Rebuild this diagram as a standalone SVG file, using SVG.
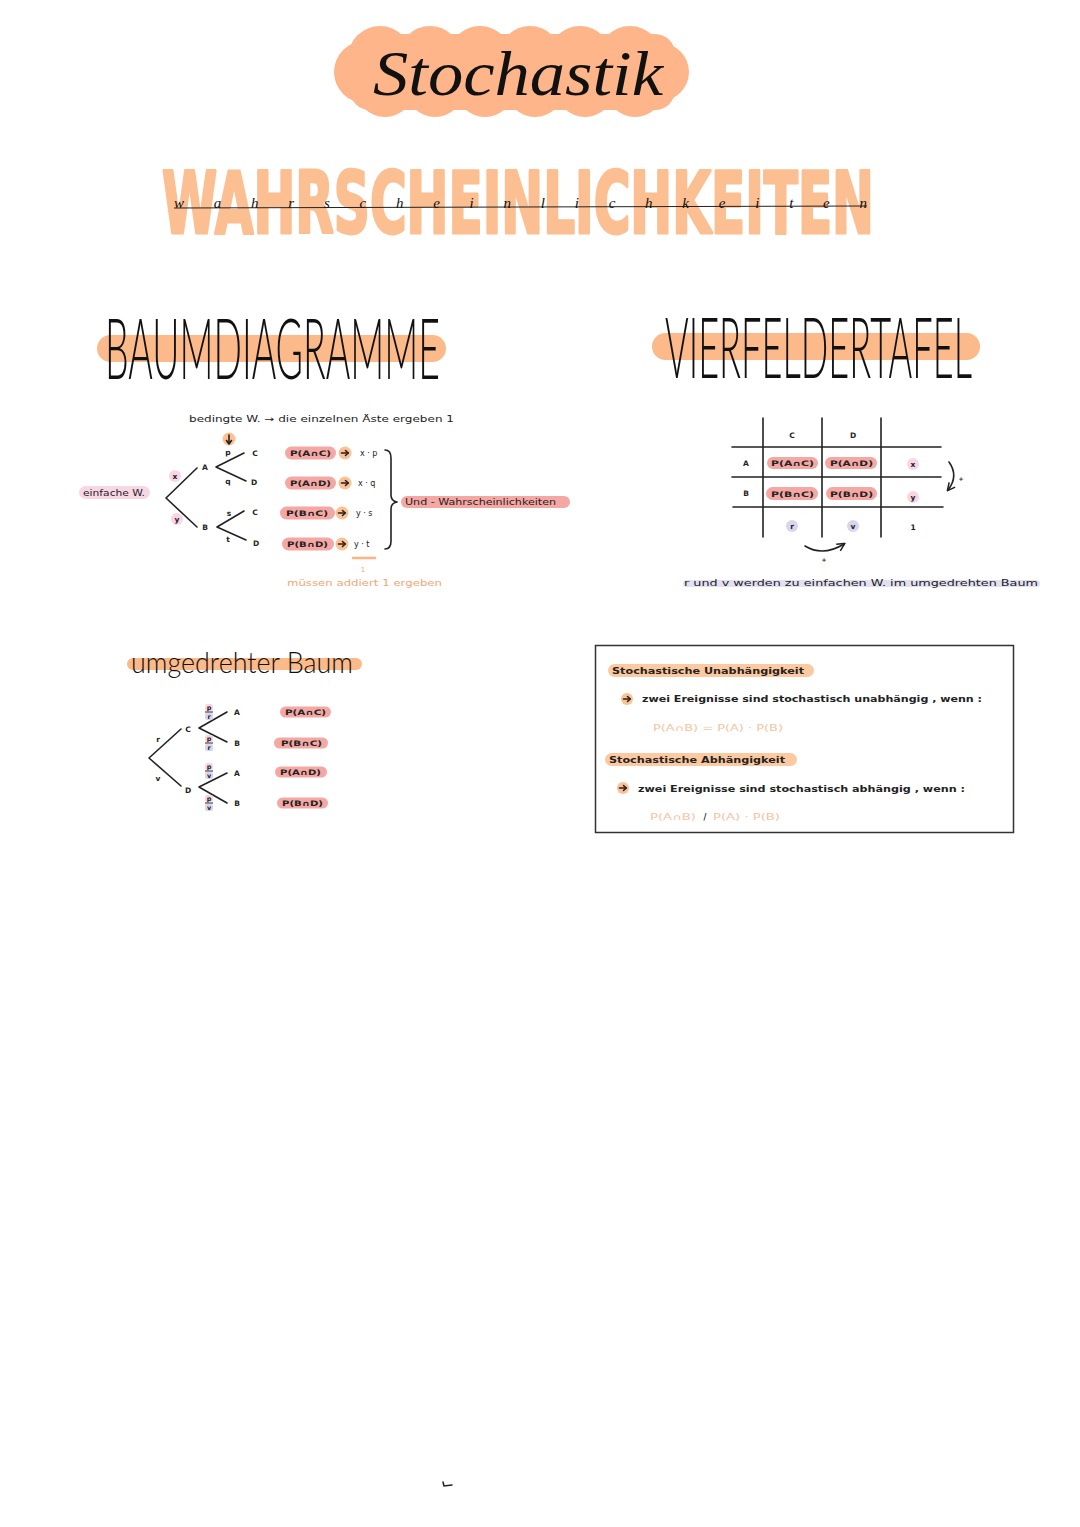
<svg xmlns="http://www.w3.org/2000/svg" xmlns:xlink="http://www.w3.org/1999/xlink" width="1080" height="1527" viewBox="0 0 1080 1527">
<style>
.t{font-family:"DejaVu Sans","Liberation Sans",sans-serif;fill:#222;}
.s7{font-size:7.5px;font-weight:bold;}
.s8{font-size:8px;}
.s9{font-size:9px;}
.pl{fill:#f4a7a3;}
.pk{fill:#f9d6e4;}
.lv{fill:#d9d5ef;}
.oc{fill:#fdc194;}
.ob{fill:#fcb98a;}
.ln{stroke:#222;stroke-width:1.6;fill:none;stroke-linecap:round;stroke-linejoin:round;}
.thin{font-family:"Lato","DejaVu Sans",sans-serif;font-weight:300;fill:#111;}
.or{fill:#f6a672;}
.lo{fill:#f8c3a0;}
</style>
<defs>
<g id="arr"><path d="M-3.5 0 H3" class="ln" stroke-width="1.3"/><path d="M0.5 -2.5 L3.3 0 L0.5 2.5" class="ln" stroke-width="1.3"/></g>
<marker id="ah" viewBox="0 0 10 10" refX="8" refY="5" markerWidth="6" markerHeight="6" orient="auto"><path d="M1 1 L9 5 L1 9" fill="none" stroke="#222" stroke-width="1.6"/></marker>
</defs>
<rect width="1080" height="1527" fill="#fff"/>

<g id="title">
<g fill="#fdb589">
<rect x="350" y="34" width="325" height="76" rx="20"/>
<circle cx="380" cy="58" r="32"/><circle cx="430" cy="57" r="31"/><circle cx="480" cy="58" r="32"/><circle cx="530" cy="57" r="31"/><circle cx="580" cy="58" r="32"/><circle cx="630" cy="58" r="32"/>
<circle cx="385" cy="88" r="29"/><circle cx="435" cy="88" r="29"/><circle cx="485" cy="88" r="29"/><circle cx="535" cy="88" r="29"/><circle cx="585" cy="88" r="29"/><circle cx="635" cy="88" r="29"/>
<circle cx="365" cy="72" r="31"/><circle cx="660" cy="72" r="29"/>
</g>
<text x="373" y="95" font-family="Liberation Serif,serif" font-style="italic" font-size="64" fill="#111" textLength="290" lengthAdjust="spacingAndGlyphs">Stochastik</text>
</g>

<g id="subtitle">
<text transform="translate(162 233) scale(1 2.15)" x="0" y="0" font-family="DejaVu Sans Condensed,DejaVu Sans,sans-serif" font-weight="bold" font-size="40" fill="#fcbf92" stroke="#fcbf92" stroke-width="1.4" stroke-linejoin="round" textLength="712" lengthAdjust="spacingAndGlyphs">WAHRSCHEINLICHKEITEN</text>
<path d="M174 208 L867 206" stroke="#222" stroke-width="1" fill="none"/>
<text x="174" y="208" font-family="Liberation Serif,serif" font-style="italic" font-size="15" fill="#111" textLength="693" lengthAdjust="spacing">wahrscheinlichkeiten</text>
</g>

<g id="h-baum">
<rect x="97" y="335" width="349" height="27" rx="13.5" class="ob"/>
<text transform="translate(105 379) scale(1 2.1)" x="0" y="0" class="thin" font-size="40" textLength="335" lengthAdjust="spacingAndGlyphs">BAUMDIAGRAMME</text>
</g>
<g id="h-vier">
<rect x="652" y="333" width="328" height="27" rx="13.5" class="ob"/>
<text transform="translate(665 378) scale(1 2.1)" x="0" y="0" class="thin" font-size="40" textLength="307" lengthAdjust="spacingAndGlyphs">VIERFELDERTAFEL</text>
</g>

<g id="connectors">
<path class="ln" d="M197 468 L166 498 L197 527"/>
<path class="ln" d="M244 453 L216 467 L246 481"/>
<path class="ln" d="M244 511 L217 527 L246 540"/>
<path class="ln" d="M385 450 Q391 450 391 458 L391 495 Q391 501 397 502 Q391 503 391 509 L391 541 Q391 549 385 549"/>
<path class="ln" d="M181 729 L149 758 L181 786"/>
<path class="ln" d="M227 712 L199 728 L227 742"/>
<path class="ln" d="M227 773 L199 787 L227 803"/>
<path class="ln" d="M949 462 Q959 476 948 490" marker-end="url(#ah)"/>
<path class="ln" d="M805 546 Q823 557 844 544" marker-end="url(#ah)"/>
</g>

<g id="bedingt">
<circle cx="229" cy="439" r="6.5" class="oc"/>
<path class="ln" d="M229 435 V443" stroke-width="1.3"/>
<path d="M226.5 440.5 L229 444 L231.5 440.5" class="ln" stroke-width="1.3"/>
<text x="189" y="422" class="t s9" textLength="265" lengthAdjust="spacingAndGlyphs">bedingte W. → die einzelnen Äste ergeben 1</text>
</g>

<g id="einfach">
<rect x="79" y="486" width="71" height="13" rx="6.5" class="pk"/>
<text x="83" y="495.5" class="t s8" textLength="62" lengthAdjust="spacingAndGlyphs">einfache W.</text>
</g>

<g id="tree1-labels" class="t s7">
<circle cx="175" cy="476" r="6" class="pk"/>
<circle cx="177" cy="519" r="6" class="pk"/>
<text x="175" y="479" text-anchor="middle">x</text>
<text x="177" y="522" text-anchor="middle">y</text>
<text x="205" y="470" text-anchor="middle">A</text>
<text x="205" y="530" text-anchor="middle">B</text>
<text x="228" y="455" text-anchor="middle">p</text>
<text x="228" y="484" text-anchor="middle">q</text>
<text x="229" y="516" text-anchor="middle">s</text>
<text x="228" y="542" text-anchor="middle">t</text>
<text x="255" y="456" text-anchor="middle">C</text>
<text x="254" y="485" text-anchor="middle">D</text>
<text x="255" y="515" text-anchor="middle">C</text>
<text x="256" y="546" text-anchor="middle">D</text>
</g>

<g id="row1"><rect x="285" y="446.5" width="51" height="13" rx="6.5" class="pl"/><text x="290" y="456" class="t s7" textLength="41" lengthAdjust="spacingAndGlyphs">P(A∩C)</text><circle cx="345" cy="453" r="6.5" class="oc"/><use xlink:href="#arr" x="345" y="453"/><text x="360" y="456" class="t s8">x · p</text></g>
<g id="row2"><rect x="285" y="476.5" width="51" height="13" rx="6.5" class="pl"/><text x="290" y="486" class="t s7" textLength="41" lengthAdjust="spacingAndGlyphs">P(A∩D)</text><circle cx="345" cy="483" r="6.5" class="oc"/><use xlink:href="#arr" x="345" y="483"/><text x="358" y="486" class="t s8">x · q</text></g>
<g id="row3"><rect x="280" y="506.5" width="55" height="13" rx="6.5" class="pl"/><text x="286" y="516" class="t s7" textLength="42" lengthAdjust="spacingAndGlyphs">P(B∩C)</text><circle cx="342" cy="513" r="6.5" class="oc"/><use xlink:href="#arr" x="342" y="513"/><text x="356" y="516" class="t s8">y · s</text></g>
<g id="row4"><rect x="282" y="537.5" width="52" height="13" rx="6.5" class="pl"/><text x="287" y="547" class="t s7" textLength="41" lengthAdjust="spacingAndGlyphs">P(B∩D)</text><circle cx="342" cy="544" r="6.5" class="oc"/><use xlink:href="#arr" x="342" y="544"/><text x="354" y="547" class="t s8">y · t</text></g>

<g id="und">
<rect x="401" y="496" width="169" height="12" rx="6" class="pl"/>
<text x="405" y="505" class="t s8" textLength="151" lengthAdjust="spacingAndGlyphs">Und - Wahrscheinlichkeiten</text>
</g>

<g id="summe">
<path d="M353 558 H375" stroke="#fdb384" stroke-width="2.5" stroke-linecap="round"/>
<text x="363" y="572" class="t or" font-size="7" text-anchor="middle">1</text>
<text x="287" y="586" class="t s9 or" textLength="155" lengthAdjust="spacingAndGlyphs">müssen addiert 1 ergeben</text>
</g>

<g id="tafel">
<path class="ln" d="M763 418 V537 M822 418 V537 M881 418 V537 M732 447 H941 M732 477 H941 M733 507 H943" stroke-width="1.5"/>
<rect x="767" y="457" width="51" height="12" rx="6" class="pl"/>
<rect x="825" y="457" width="52" height="12" rx="6" class="pl"/>
<rect x="766" y="487" width="52" height="13" rx="6.5" class="pl"/>
<rect x="826" y="487" width="51" height="13" rx="6.5" class="pl"/>
<circle cx="913" cy="464" r="6" class="pk"/>
<circle cx="913" cy="497" r="6" class="pk"/>
<circle cx="792" cy="526" r="6" class="lv"/>
<circle cx="853" cy="526" r="6" class="lv"/>
<g class="t s7">
<text x="792" y="438" text-anchor="middle">C</text>
<text x="853" y="438" text-anchor="middle">D</text>
<text x="746" y="466" text-anchor="middle">A</text>
<text x="746" y="496" text-anchor="middle">B</text>
<text x="771" y="466" textLength="43" lengthAdjust="spacingAndGlyphs">P(A∩C)</text>
<text x="830" y="466" textLength="43" lengthAdjust="spacingAndGlyphs">P(A∩D)</text>
<text x="771" y="496.5" textLength="43" lengthAdjust="spacingAndGlyphs">P(B∩C)</text>
<text x="830" y="496.5" textLength="43" lengthAdjust="spacingAndGlyphs">P(B∩D)</text>
<text x="913" y="467" text-anchor="middle">x</text>
<text x="913" y="500" text-anchor="middle">y</text>
<text x="792" y="529" text-anchor="middle">r</text>
<text x="853" y="529" text-anchor="middle">v</text>
<text x="913" y="530" text-anchor="middle">1</text>
<text x="961" y="481" text-anchor="middle" font-size="6">+</text>
<text x="824" y="562" text-anchor="middle" font-size="6">+</text>
</g>
<rect x="683" y="580" width="357" height="7" rx="3.5" fill="#e3e0f3"/>
<text x="684" y="586" class="t s9" textLength="354" lengthAdjust="spacingAndGlyphs">r und v werden zu einfachen W. im umgedrehten Baum</text>
</g>

<g id="h-umg">
<rect x="127" y="658" width="235" height="12" rx="6" class="ob"/>
<text x="131" y="673" class="thin" font-size="30" textLength="222" lengthAdjust="spacingAndGlyphs">umgedrehter Baum</text>
</g>

<g id="tree2" class="t s7">
<text x="158" y="742" text-anchor="middle">r</text>
<text x="158" y="781" text-anchor="middle">v</text>
<text x="188" y="732" text-anchor="middle">C</text>
<text x="188" y="793" text-anchor="middle">D</text>
<text x="237" y="715" text-anchor="middle">A</text>
<text x="237" y="746" text-anchor="middle">B</text>
<text x="237" y="776" text-anchor="middle">A</text>
<text x="237" y="806" text-anchor="middle">B</text>
</g>
<g id="fractions" class="t" font-size="6.5" font-weight="bold" text-anchor="middle">
<rect x="205" y="704" width="8" height="7" rx="2" class="pk"/><rect x="205" y="713" width="8" height="7" rx="2" class="lv"/><path d="M205 712 H213" stroke="#222" stroke-width="1"/><text x="209" y="710">p</text><text x="209" y="719">r</text>
<rect x="205" y="735" width="8" height="7" rx="2" class="pk"/><rect x="205" y="744" width="8" height="7" rx="2" class="lv"/><path d="M205 743 H213" stroke="#222" stroke-width="1"/><text x="209" y="741">p</text><text x="209" y="750">r</text>
<rect x="205" y="763" width="8" height="7" rx="2" class="pk"/><rect x="205" y="772" width="8" height="7" rx="2" class="lv"/><path d="M205 771 H213" stroke="#222" stroke-width="1"/><text x="209" y="769">p</text><text x="209" y="778">v</text>
<rect x="205" y="795" width="8" height="7" rx="2" class="pk"/><rect x="205" y="804" width="8" height="7" rx="2" class="lv"/><path d="M205 803 H213" stroke="#222" stroke-width="1"/><text x="209" y="801">p</text><text x="209" y="810">v</text>
</g>
<g id="pills2">
<rect x="280" y="706.5" width="51" height="11" rx="5.5" class="pl"/><text x="285" y="715" class="t s7" textLength="41" lengthAdjust="spacingAndGlyphs">P(A∩C)</text>
<rect x="274" y="737.5" width="54" height="11" rx="5.5" class="pl"/><text x="281" y="746" class="t s7" textLength="41" lengthAdjust="spacingAndGlyphs">P(B∩C)</text>
<rect x="275" y="766.5" width="52" height="11" rx="5.5" class="pl"/><text x="280" y="775" class="t s7" textLength="41" lengthAdjust="spacingAndGlyphs">P(A∩D)</text>
<rect x="277" y="797.5" width="51" height="11" rx="5.5" class="pl"/><text x="282" y="806" class="t s7" textLength="41" lengthAdjust="spacingAndGlyphs">P(B∩D)</text>
</g>

<g id="box">
<rect x="595.5" y="645.5" width="418" height="187" fill="none" stroke="#333" stroke-width="1.5"/>
<rect x="608" y="664" width="206" height="13" rx="6.5" fill="#fdc9a0"/>
<text x="612" y="674" class="t s8" font-weight="bold" textLength="192" lengthAdjust="spacingAndGlyphs">Stochastische Unabhängigkeit</text>
<circle cx="627" cy="699" r="6" class="oc"/><use xlink:href="#arr" x="627" y="699"/>
<text x="642" y="702" class="t s8" font-weight="bold" textLength="340" lengthAdjust="spacingAndGlyphs">zwei Ereignisse sind stochastisch unabhängig , wenn :</text>
<text x="653" y="731" class="t s8 lo" textLength="130" lengthAdjust="spacingAndGlyphs">P(A∩B) = P(A) · P(B)</text>
<rect x="605" y="753" width="192" height="13" rx="6.5" fill="#fdc9a0"/>
<text x="609" y="763" class="t s8" font-weight="bold" textLength="176" lengthAdjust="spacingAndGlyphs">Stochastische Abhängigkeit</text>
<circle cx="623" cy="788" r="6" class="oc"/><use xlink:href="#arr" x="623" y="788"/>
<text x="638" y="792" class="t s8" font-weight="bold" textLength="327" lengthAdjust="spacingAndGlyphs">zwei Ereignisse sind stochastisch abhängig , wenn :</text>
<text x="650" y="820" class="t s8 lo" textLength="46" lengthAdjust="spacingAndGlyphs">P(A∩B)</text>
<text x="705" y="820" class="t s8" font-weight="bold" text-anchor="middle">/</text>
<text x="713" y="820" class="t s8 lo" textLength="67" lengthAdjust="spacingAndGlyphs">P(A) · P(B)</text>
</g>

<path d="M443 1482 L444 1486 L452 1485" stroke="#222" stroke-width="1.5" fill="none" stroke-linecap="round"/>
</svg>
